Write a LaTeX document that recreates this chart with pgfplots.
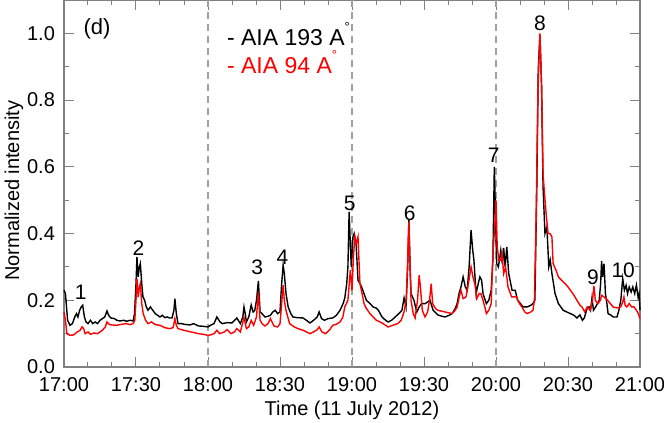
\documentclass[border=0pt]{standalone}
\usepackage{fontspec}
\setmainfont{Liberation Sans}
\usepackage{pgfplots}
\pgfplotsset{compat=1.18}
\definecolor{framegray}{HTML}{808080}
\definecolor{dashgray}{HTML}{A0A0A0}
\definecolor{aiared}{HTML}{FF0000}
\newcommand{\ang}{A\raisebox{1.15ex}{\fontsize{6.5}{7}\selectfont\textdegree}}

% time in minutes after 17:00 UT
\pgfplotstableread{
t y
0 0.23
0.6 0.22
1.5 0.14
2.5 0.125
3.5 0.13
4.5 0.15
5.2 0.16
5.8 0.15
6.5 0.17
7.2 0.18
7.8 0.185
8.5 0.15
9.2 0.135
10 0.13
11 0.14
12 0.13
13 0.135
14 0.13
15 0.14
16 0.145
17 0.15
17.9 0.168
18.6 0.155
19.5 0.147
21 0.145
22 0.14
23.3 0.138
25 0.14
26 0.137
27.5 0.14
28.8 0.138
29.4 0.16
30 0.25
30.4 0.33
30.9 0.27
31.4 0.30
31.8 0.31
32.4 0.25
32.9 0.21
33.6 0.20
34.3 0.18
35 0.17
36 0.18
37 0.17
38 0.16
38.8 0.156
40 0.15
41 0.155
42 0.148
43 0.15
44 0.147
45 0.147
45.8 0.17
46.2 0.205
46.8 0.16
47.5 0.13
49 0.13
50 0.128
52.5 0.126
54 0.13
56 0.123
58 0.122
60 0.12
61 0.125
62.5 0.13
63.7 0.15
65 0.135
66 0.13
68 0.133
70 0.132
72 0.147
73.5 0.13
74.5 0.15
75 0.18
75.5 0.16
76 0.135
77 0.15
78 0.186
78.8 0.165
79.5 0.17
80.2 0.2
81 0.258
81.7 0.165
82.5 0.16
83.7 0.15
85 0.152
86 0.155
87 0.165
88 0.17
89 0.16
90 0.165
90.6 0.24
91.3 0.305
91.8 0.28
92.5 0.22
93.4 0.18
94.5 0.16
95.4 0.15
97 0.148
99.6 0.147
101 0.14
102.5 0.132
104 0.14
105.5 0.15
106.3 0.165
107.3 0.145
108.5 0.14
110 0.145
112 0.147
113.5 0.155
115 0.17
116.3 0.19
117 0.207
117.8 0.25
118.3 0.30
118.8 0.465
119.3 0.37
119.7 0.30
120.4 0.39
120.9 0.40
121.7 0.37
122.5 0.26
123.3 0.25
124 0.24
125 0.22
126 0.20
127.5 0.19
128.8 0.18
130 0.177
131 0.17
132.5 0.15
134 0.14
135 0.135
136.5 0.14
138 0.15
139.5 0.16
140.8 0.17
141.7 0.207
142.5 0.18
143.2 0.3
143.7 0.44
144.2 0.3
144.6 0.22
145.8 0.20
147 0.165
148 0.18
149 0.19
150.5 0.19
152.5 0.20
153.8 0.17
155.8 0.156
157.5 0.152
158.8 0.15
160.5 0.155
161.7 0.16
163 0.175
163.8 0.19
164.6 0.22
165.4 0.24
166.3 0.27
167.2 0.24
168 0.23
168.8 0.3
169.6 0.41
170.3 0.35
170.8 0.32
171.7 0.22
172.6 0.25
173.3 0.27
174 0.26
174.6 0.22
175.5 0.20
176 0.19
177 0.2
178 0.23
178.7 0.32
179.3 0.60
179.8 0.45
180.3 0.31
181 0.30
182 0.35
182.6 0.31
183.2 0.357
183.8 0.30
184.5 0.36
185.3 0.28
186.7 0.23
188 0.23
189 0.20
190.2 0.19
191.3 0.18
193 0.18
194.5 0.185
195.4 0.19
196.2 0.2
197 0.54
197.6 0.89
198.3 0.995
199 0.84
199.6 0.54
200.4 0.40
201.2 0.42
202 0.30
202.6 0.32
203.3 0.28
204.6 0.22
206 0.19
207 0.18
208 0.17
209.5 0.165
211 0.16
212.5 0.155
213.7 0.147
215 0.156
216 0.14
216.8 0.147
218 0.177
218.8 0.18
219.4 0.17
220 0.207
220.6 0.17
221.5 0.18
223 0.20
223.6 0.25
224 0.318
224.4 0.27
225 0.31
225.6 0.22
226.2 0.19
226.7 0.16
228 0.155
228.8 0.15
230.4 0.15
231.2 0.17
232 0.2
232.8 0.265
233.5 0.23
234.2 0.245
234.8 0.22
235.5 0.24
236.3 0.225
237 0.24
237.8 0.22
238.5 0.245
239.2 0.21
239.6 0.22
240 0.17
}\aiablack

\pgfplotstableread{
t y
0 0.165
0.6 0.14
1.2 0.10
2.5 0.095
4 0.096
5.5 0.105
6.7 0.11
7.5 0.12
8.2 0.115
8.8 0.10
10 0.105
11 0.098
12.5 0.102
14 0.10
15 0.105
16 0.11
17.2 0.12
17.9 0.135
18.8 0.128
20 0.126
22 0.125
24 0.128
26 0.13
27.5 0.127
28.8 0.13
29.5 0.14
30 0.20
30.4 0.265
30.9 0.21
31.4 0.24
31.8 0.25
32.4 0.19
33 0.16
34 0.14
35 0.13
36.5 0.135
38 0.127
40 0.125
42 0.118
44 0.115
45.5 0.118
46.2 0.145
46.8 0.125
47.5 0.115
50 0.11
53 0.105
56 0.10
58 0.098
60 0.095
61.5 0.097
62.5 0.1
63.7 0.11
64.8 0.1
66.5 0.104
68 0.112
69.5 0.1
71 0.105
72 0.115
73.5 0.105
75 0.148
76 0.115
77 0.12
78 0.14
79 0.125
80.2 0.15
81 0.225
81.7 0.14
82.5 0.13
83.7 0.123
85 0.13
86 0.145
87.5 0.123
89 0.12
90 0.13
90.7 0.19
91.3 0.245
91.8 0.20
92.5 0.17
94 0.13
96 0.12
97.5 0.115
99.6 0.11
101 0.105
102.5 0.10
104 0.105
105.5 0.112
106.3 0.12
107.5 0.105
109 0.1
110.5 0.11
112 0.125
113.5 0.128
115 0.135
116.2 0.15
117 0.18
118.3 0.2
119.3 0.29
120 0.23
120.6 0.33
121.2 0.39
121.8 0.37
122.5 0.39
123.3 0.25
124.2 0.22
125 0.19
126 0.175
127.5 0.16
128.8 0.15
130.2 0.14
131.7 0.135
133 0.13
135 0.12
137 0.125
139 0.13
140.5 0.14
141.7 0.165
142.6 0.2
143.1 0.3
143.7 0.435
144.2 0.3
144.6 0.2
145.5 0.16
146.3 0.147
147.3 0.2
148 0.275
148.5 0.24
149.3 0.17
150.4 0.15
151.5 0.165
152.3 0.2
153 0.25
153.6 0.19
154.8 0.175
155.8 0.17
158.8 0.165
161.7 0.16
163 0.17
163.8 0.18
165 0.22
165.4 0.23
166.3 0.205
167.5 0.21
168.5 0.25
169.6 0.30
170.4 0.27
171.3 0.245
172 0.205
173 0.22
173.7 0.22
174.6 0.2
175.5 0.175
176 0.16
177 0.17
178 0.19
178.6 0.32
179.6 0.44
180 0.50
180.5 0.36
181.2 0.32
182 0.32
182.5 0.34
183.2 0.28
184 0.30
185 0.24
186.5 0.21
188.5 0.21
189.8 0.19
190.8 0.18
192 0.165
193 0.16
194.5 0.165
195.4 0.17
196 0.2
196.7 0.44
197.5 0.84
198.3 1.0
199 0.84
199.6 0.58
200.2 0.52
201 0.45
201.7 0.40
202.5 0.40
203.3 0.39
203.8 0.31
205 0.29
206 0.27
207.3 0.26
208.8 0.25
210 0.24
211 0.23
212.5 0.215
213.7 0.20
215 0.185
215.8 0.18
217 0.165
218 0.18
219.2 0.17
220.2 0.2
220.8 0.243
221.4 0.2
222.5 0.19
223.5 0.2
224 0.215
225 0.21
226.5 0.2
228.8 0.18
230.4 0.177
232 0.18
232.8 0.195
233.3 0.21
233.8 0.185
234.5 0.18
235.5 0.19
236.5 0.18
237.5 0.18
238.5 0.17
239.3 0.16
240 0.145
}\aiared

\begin{document}
\begin{tikzpicture}
  \begin{axis}[
    name=ax,
    scale only axis,
    width=288pt, height=183.5pt,
    xmin=0, xmax=240, ymin=0, ymax=1.1,
    xtick={0,30,60,90,120,150,180,210,240},
    xticklabels={17:00,17:30,18:00,18:30,19:00,19:30,20:00,20:30,21:00},
    ytick={0,0.2,0.4,0.6,0.8,1.0},
    yticklabels={0.0,0.2,0.4,0.6,0.8,1.0},
    minor x tick num=2,
    minor y tick num=1,
    tick align=inside,
    axis line style={framegray, line width=0.6pt},
    every tick/.style={framegray, line width=0.5pt},
    major tick length=5pt,
    minor tick length=2.5pt,
    ticklabel style={font=\fontsize{10}{12}\selectfont},
    xticklabel style={yshift=-1.5pt},
    yticklabel style={xshift=-1pt},
    /pgf/number format/assume math mode=true,
    xlabel={Time (11 July 2012)},
    ylabel={Normalized intensity},
    label style={font=\fontsize{10}{12}\selectfont},
    xlabel style={at={(axis description cs:0.5,-0.117)}, anchor=center},
    ylabel style={at={(axis description cs:-0.087,0.48)}, anchor=center},
    clip=false
  ]
    \draw[dashgray, line width=0.6pt, dash pattern=on 3.5pt off 2.5pt] (axis cs:60,0) -- (axis cs:60,1.1);
    \draw[dashgray, line width=0.6pt, dash pattern=on 3.5pt off 2.5pt] (axis cs:120,0) -- (axis cs:120,1.1);
    \draw[dashgray, line width=0.6pt, dash pattern=on 3.5pt off 2.5pt] (axis cs:180,0) -- (axis cs:180,1.1);

    \addplot[black, line width=0.7pt] table[x=t, y=y] {\aiablack};
    \addplot[aiared, line width=0.7pt] table[x=t, y=y] {\aiared};

    \node[font=\fontsize{11}{13}\selectfont] at (axis cs:13.75,1.015) {(d)};
    \node[anchor=west, font=\fontsize{11.5}{13}\selectfont] at (axis cs:65,0.997) {- AIA 193 \ang};
    \node[anchor=west, font=\fontsize{11.5}{13}\selectfont, text=aiared] at (axis cs:65,0.913) {- AIA 94 \ang};

    \node[font=\fontsize{10.5}{12}\selectfont] at (axis cs:7,0.225) {1};
    \node[font=\fontsize{10.5}{12}\selectfont] at (axis cs:31,0.357) {2};
    \node[font=\fontsize{10.5}{12}\selectfont] at (axis cs:80.5,0.30) {3};
    \node[font=\fontsize{10.5}{12}\selectfont] at (axis cs:91,0.33) {4};
    \node[font=\fontsize{10.5}{12}\selectfont] at (axis cs:119,0.49) {5};
    \node[font=\fontsize{10.5}{12}\selectfont] at (axis cs:144,0.46) {6};
    \node[font=\fontsize{10.5}{12}\selectfont] at (axis cs:179,0.635) {7};
    \node[font=\fontsize{10.5}{12}\selectfont] at (axis cs:198.3,1.03) {8};
    \node[font=\fontsize{10.5}{12}\selectfont] at (axis cs:220.4,0.27) {9};
    \node[font=\fontsize{10.5}{12}\selectfont] at (axis cs:233,0.29) {10};
  \end{axis}
  \pgfresetboundingbox
  \path[use as bounding box] ([shift={(-32pt,-28pt)}]ax.south west) rectangle ([shift={(12pt,0pt)}]ax.north east);
\end{tikzpicture}
\end{document}
